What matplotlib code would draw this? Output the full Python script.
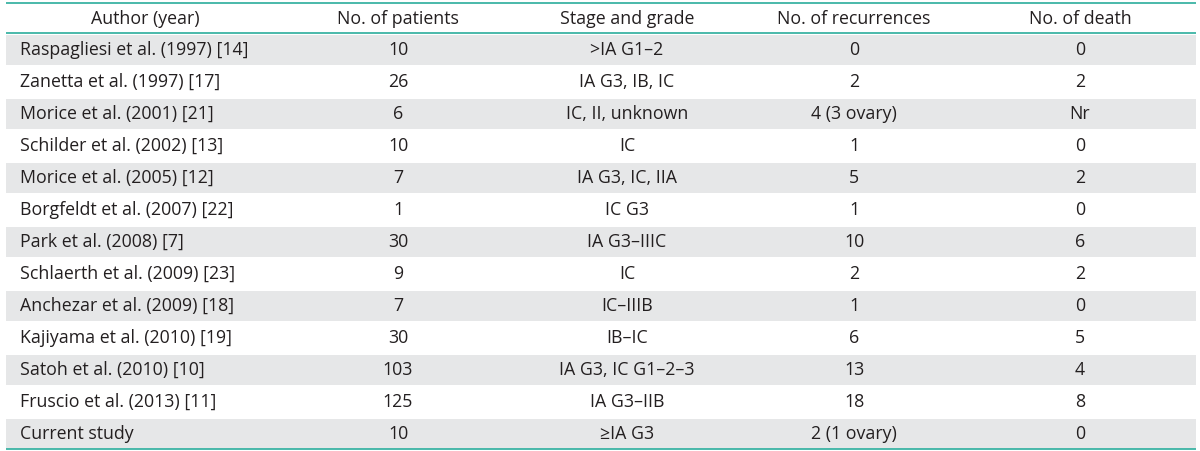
import matplotlib
matplotlib.use("Agg")
import matplotlib.pyplot as plt

plt.rcParams['font.family'] = ['Open Sans', 'DejaVu Sans']

# table content
headers = ["Author (year)", "No. of patients", "Stage and grade",
           "No. of recurrences", "No. of death"]
authors = ["Raspagliesi et al. (1997) [14]", "Zanetta et al. (1997) [17]",
           "Morice et al. (2001) [21]", "Schilder et al. (2002) [13]",
           "Morice et al. (2005) [12]", "Borgfeldt et al. (2007) [22]",
           "Park et al. (2008) [7]", "Schlaerth et al. (2009) [23]",
           "Anchezar et al. (2009) [18]", "Kajiyama et al. (2010) [19]",
           "Satoh et al. (2010) [10]", "Fruscio et al. (2013) [11]",
           "Current study"]
patients = ["10", "26", "6", "10", "7", "1", "30", "9", "7", "30", "103", "125", "10"]
stages = [">IA G1–2", "IA G3, IB, IC", "IC, II, unknown", "IC", "IA G3, IC, IIA",
          "IC G3", "IA G3–IIIC", "IC", "IC–IIIB", "IB–IC", "IA G3, IC G1–2–3",
          "IA G3–IIB", "≥IA G3"]
recurrences = ["0", "2", "4 (3 ovary)", "1", "5", "1", "10", "2", "1", "6", "13",
               "18", "2 (1 ovary)"]
deaths = ["0", "2", "Nr", "0", "2", "0", "6", "2", "0", "5", "4", "8", "0"]

# layout in pixels
W, H = 1200, 451
left, right = 6, 1196
top_line, head_line, bottom_line = 3, 33, 449
row_h = (bottom_line - head_line) / len(authors)
col_x = [145, 398, 627, 854, 1080]
author_x = 20
teal = "#3BB3A4"
gray = "#E6E7E8"
txt = "#231F20"
fs = 12.8

fig = plt.figure(figsize=(W / 100, H / 100), dpi=100)
ax = fig.add_axes([0, 0, 1, 1])
ax.set_xlim(0, W)
ax.set_ylim(H, 0)
ax.axis("off")

for i in range(len(authors)):
    y0 = head_line + i * row_h
    if i % 2 == 0:
        ax.fill_between([left, right], y0 + 1.5, y0 + row_h - 0.5, color=gray, lw=0)
    yc = y0 + row_h / 2 + 1
    ax.text(author_x, yc, authors[i], ha="left", va="center", fontsize=fs, color=txt)
    for x, col in zip(col_x[1:], [patients, stages, recurrences, deaths]):
        ax.text(x, yc, col[i], ha="center", va="center", fontsize=fs, color=txt)

for x, h in zip(col_x, headers):
    ax.text(x, (top_line + head_line) / 2 + 1, h, ha="center", va="center",
            fontsize=fs, color=txt)

for y in [top_line, head_line, bottom_line]:
    ax.plot([left, right], [y, y], color=teal, lw=1.3, solid_capstyle="butt")

fig.savefig("out.png", dpi=100)
